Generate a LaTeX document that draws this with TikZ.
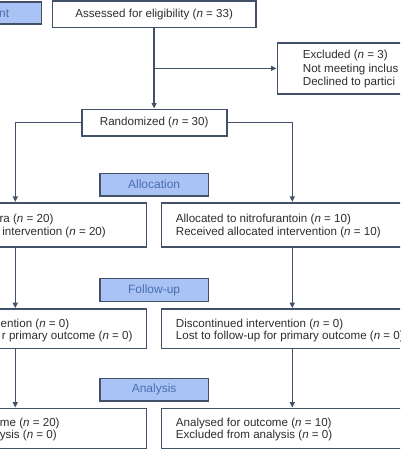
\documentclass[tikz,border=0pt]{standalone}
\usepackage{fontspec}
\setmainfont{Liberation Sans}
\usetikzlibrary{arrows.meta}
\definecolor{edge}{HTML}{435069}
\definecolor{labfill}{HTML}{A9C4F4}
\definecolor{labtext}{HTML}{4A6DB0}
\definecolor{txt}{HTML}{2E2E2E}
\begin{document}
\begin{tikzpicture}[x=1pt, y=-1pt,
  font=\fontsize{11.6}{13.7}\selectfont,
  box/.style={draw=edge, line width=1.6pt, fill=white, inner sep=0pt, text=txt},
  lab/.style={draw=edge, line width=1.6pt, fill=labfill, text=labtext,
    font=\fontsize{12}{14}\selectfont, minimum width=108.3pt, minimum height=22.7pt, inner sep=0pt},
  sidebox/.style={box, minimum width=262pt},
  ln/.style={text=txt, inner sep=0pt},
  arr/.style={draw=edge, line width=1.6pt, -{Triangle[length=5.5pt,width=5pt]}}]
\useasboundingbox (0,0) rectangle (400,450);
\clip (0,0) rectangle (400,450);
\fill[white] (0,0) rectangle (400,450);

% top row
\node[lab, minimum height=22.3pt] (enrol) at (-12.85,12.85) {};
\node[ln, text=labtext, font=\fontsize{12}{14}\selectfont, anchor=base east] (enroltxt) at (9.3,17.1) {nt};
\node[box, minimum width=203.7pt, minimum height=26.3pt] (assess) at (154.15,14.15) {Assessed for eligibility (\textit{n} = 33)};

\node[box, minimum width=252.7pt, minimum height=51.3pt] (excl) at (403.65,68.35) {};
\node[ln, anchor=base west] (ex1) at (302.7,58.1) {Excluded (\textit{n} = 3)};
\node[ln, anchor=base west] (ex2) at (302.7,72.1) {Not meeting inclus};
\node[ln, anchor=base west] (ex3) at (302.7,85.5) {Declined to partici};

\node[box, minimum width=145pt, minimum height=26.4pt] (rand) at (154.2,122.5) {Randomized (\textit{n} = 30)};

% allocation
\node[lab] (alloclab) at (154.15,184.65) {Allocation};
\node[sidebox, minimum height=44pt] (allocL) at (15.3,224.7) {};
\node[sidebox, minimum height=44pt] (allocR) at (292.3,224.7) {};
\node[ln, anchor=base east] (al1) at (53.6,222.1) {ra (\textit{n} = 20)};
\node[ln, anchor=base east] (al2) at (106,235.5) {intervention (\textit{n} = 20)};
\node[ln, anchor=base west] (ar1) at (175.7,222.1) {Allocated to nitrofurantoin (\textit{n} = 10)};
\node[ln, anchor=base west] (ar2) at (175.7,235.5) {Received allocated intervention (\textit{n} = 10)};

% follow-up
\node[lab] (fuplab) at (154.15,290) {Follow-up};
\node[sidebox, minimum height=39.3pt] (fupL) at (15.3,328.65) {};
\node[sidebox, minimum height=39.3pt] (fupR) at (292.3,328.65) {};
\node[ln, anchor=base east] (fl1) at (69.5,327.1) {ention (\textit{n} = 0)};
\node[ln, anchor=base east] (fl2) at (132.7,339.8) {r primary outcome (\textit{n} = 0)};
\node[ln, anchor=base west] (fr1) at (175.7,327.1) {Discontinued intervention (\textit{n} = 0)};
\node[ln, anchor=base west] (fr2) at (175.7,339.8) {Lost to follow-up for primary outcome (\textit{n} = 0)};

% analysis
\node[lab] (analab) at (154.15,389.65) {Analysis};
\node[sidebox, minimum height=40pt] (anaL) at (15.3,428.3) {};
\node[sidebox, minimum height=40pt] (anaR) at (292.3,428.3) {};
\node[ln, anchor=base east] (nl1) at (59.8,426.1) {me (\textit{n} = 20)};
\node[ln, anchor=base east] (nl2) at (57,438.8) {ysis (\textit{n} = 0)};
\node[ln, anchor=base west] (nr1) at (175.7,426.1) {Analysed for outcome (\textit{n} = 10)};
\node[ln, anchor=base west] (nr2) at (175.7,438.8) {Excluded from analysis (\textit{n} = 0)};

% connectors
\draw[arr] (assess.south) -- (assess.south |- rand.north);
\draw[arr] (assess.south |- excl.west) -- (excl.west);
\draw[arr] (rand.west) -| (allocL.north);
\draw[arr] (rand.east) -| (allocR.north);
\draw[arr] (allocL.south) -- (fupL.north);
\draw[arr] (allocR.south) -- (fupR.north);
\draw[arr] (fupL.south) -- (anaL.north);
\draw[arr] (fupR.south) -- (anaR.north);
\end{tikzpicture}
\end{document}
